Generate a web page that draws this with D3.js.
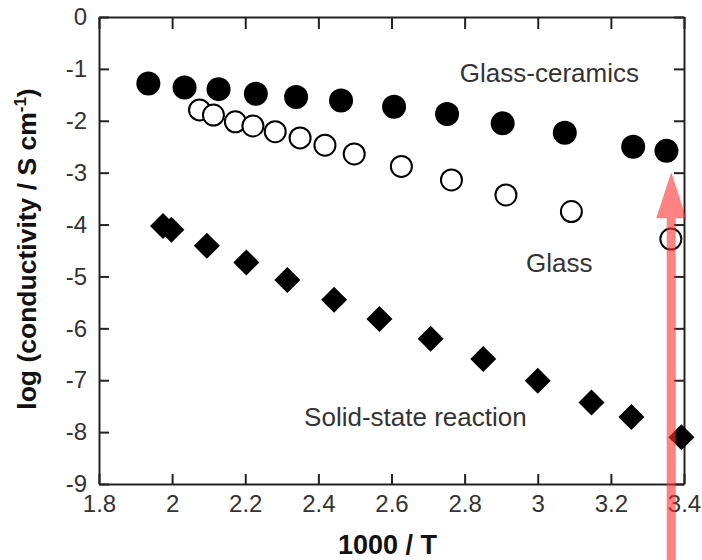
<!DOCTYPE html>
<html>
<head>
<meta charset="utf-8">
<script src="https://cdn.jsdelivr.net/npm/d3@7"></script>
<style>
  html, body { margin: 0; padding: 0; background: #fff; }
  svg { display: block; font-family: "Liberation Sans", Arial, sans-serif; }
</style>
</head>
<body>
<svg id="chart" width="702" height="560"></svg>
<script>
// ---- data ----
const glassCeramicsX = [1.935, 2.034, 2.127, 2.229, 2.339, 2.462, 2.607, 2.752, 2.904, 3.074, 3.261, 3.352];
const glassCeramicsY = [-1.28, -1.36, -1.39, -1.48, -1.54, -1.61, -1.73, -1.87, -2.05, -2.23, -2.50, -2.58];

const glassX = [2.075, 2.113, 2.173, 2.221, 2.282, 2.350, 2.418, 2.498, 2.627, 2.764, 2.913, 3.092, 3.364];
const glassY = [-1.79, -1.89, -2.02, -2.10, -2.21, -2.33, -2.47, -2.64, -2.88, -3.14, -3.43, -3.75, -4.28];

const solidX = [1.975, 1.998, 2.095, 2.203, 2.315, 2.443, 2.567, 2.707, 2.851, 3.000, 3.147, 3.256, 3.393];
const solidY = [-4.03, -4.10, -4.41, -4.73, -5.07, -5.45, -5.82, -6.20, -6.59, -7.01, -7.43, -7.71, -8.10];

const xTicks = [1.8, 2.0, 2.2, 2.4, 2.6, 2.8, 3.0, 3.2, 3.4];
const yTicks = [0, -1, -2, -3, -4, -5, -6, -7, -8, -9];

const annotations = [
  { text: "Glass-ceramics", x: 2.787, y: -1.26 },
  { text: "Glass", x: 2.968, y: -4.92 },
  { text: "Solid-state reaction", x: 2.361, y: -7.88 }
];
const arrowX = 3.365, arrowTipY = -2.99;

// ---- layout ----
const svg = d3.select("#chart");
const mLeft = 99, mRight = 684, mTop = 17, mBottom = 484;
const x = d3.scaleLinear().domain([1.8, 3.4]).range([mLeft, mRight]);
const y = d3.scaleLinear().domain([-9, 0]).range([mBottom, mTop]);

const axisColor = "#222";
const textColor = "#333";

function styleAxis(g) {
  g.select(".domain").attr("stroke", axisColor).attr("stroke-width", 2);
  g.selectAll(".tick line").attr("stroke", axisColor).attr("stroke-width", 2);
  g.selectAll(".tick text").attr("fill", textColor)
    .style("font-family", "'Liberation Sans', Arial, sans-serif")
    .style("font-size", "24px");
}

// bottom
svg.append("g").attr("transform", `translate(0,${mBottom})`)
  .call(d3.axisBottom(x).tickValues(xTicks).tickSizeInner(-10).tickSizeOuter(0)
    .tickPadding(11).tickFormat(d => String(+d.toFixed(1))))
  .call(styleAxis);
// top
svg.append("g").attr("transform", `translate(0,${mTop})`)
  .call(d3.axisTop(x).tickValues(xTicks).tickSizeInner(-12).tickSizeOuter(0).tickFormat(""))
  .call(styleAxis);
// left
svg.append("g").attr("transform", `translate(${mLeft},0)`)
  .call(d3.axisLeft(y).tickValues(yTicks).tickSizeInner(-10).tickSizeOuter(0)
    .tickPadding(12).tickFormat(d => String(d)))
  .call(styleAxis);
// right
svg.append("g").attr("transform", `translate(${mRight},0)`)
  .call(d3.axisRight(y).tickValues(yTicks).tickSizeInner(-10).tickSizeOuter(0).tickFormat(""))
  .call(styleAxis);

// ---- markers ----
const gc = glassCeramicsX.map((v, i) => [v, glassCeramicsY[i]]);
const gl = glassX.map((v, i) => [v, glassY[i]]);
const ss = solidX.map((v, i) => [v, solidY[i]]);

svg.append("g").selectAll("circle").data(gl).join("circle")
  .attr("cx", d => x(d[0])).attr("cy", d => y(d[1])).attr("r", 10.5)
  .attr("fill", "#fff").attr("stroke", "#000").attr("stroke-width", 2);

svg.append("g").selectAll("circle").data(gc).join("circle")
  .attr("cx", d => x(d[0])).attr("cy", d => y(d[1])).attr("r", 12)
  .attr("fill", "#000");

const dsz = 13;
svg.append("g").selectAll("path").data(ss).join("path")
  .attr("d", d => {
    const cx = x(d[0]), cy = y(d[1]);
    return `M${cx},${cy - dsz}L${cx + dsz},${cy}L${cx},${cy + dsz}L${cx - dsz},${cy}Z`;
  })
  .attr("fill", "#000");

// ---- annotations ----
svg.append("g").selectAll("text").data(annotations).join("text")
  .attr("x", d => x(d.x)).attr("y", d => y(d.y))
  .attr("fill", textColor)
  .style("font-size", "26px")
  .text(d => d.text);

// ---- axis titles ----
svg.append("text")
  .attr("x", (mLeft + mRight) / 2 - 4).attr("y", 554)
  .attr("text-anchor", "middle")
  .attr("fill", "#111")
  .style("font-size", "27px").style("font-weight", "bold")
  .text("1000 / T");

const yl = svg.append("text")
  .attr("transform", `translate(36,249) rotate(-90)`)
  .attr("text-anchor", "middle")
  .attr("fill", "#111")
  .style("font-size", "26.5px").style("font-weight", "bold");
yl.append("tspan").text("log (conductivity / S cm");
yl.append("tspan").attr("dy", -10).style("font-size", "17px").text("-1");
yl.append("tspan").attr("dy", 10).text(")");

// ---- red arrow ----
const ax = x(arrowX), tipY = y(arrowTipY), headLen = 46, headHalf = 15, shaftHalf = 4.5;
svg.append("path")
  .attr("d", `M${ax},${tipY}L${ax + headHalf},${tipY + headLen}L${ax + shaftHalf},${tipY + headLen}L${ax + shaftHalf},562L${ax - shaftHalf},562L${ax - shaftHalf},${tipY + headLen}L${ax - headHalf},${tipY + headLen}Z`)
  .attr("fill", "#ff3030").attr("opacity", 0.6);
</script>
</body>
</html>
